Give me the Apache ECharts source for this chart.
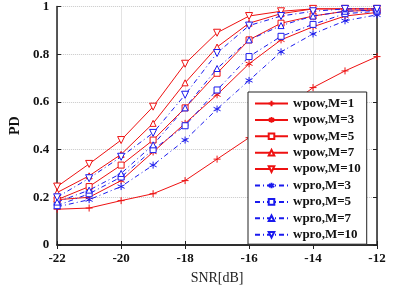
<!DOCTYPE html>
<html><head><meta charset="utf-8">
<script src="https://cdn.jsdelivr.net/npm/echarts@6/dist/echarts.min.js"></script>
<style>html,body{margin:0;padding:0;background:#fff}#c{width:393px;height:290px}</style>
</head><body><div id="c"></div>
<script>
const snr = [-22,-21,-20,-19,-18,-17,-16,-15,-14,-13,-12];
const xTicks = [-22,-20,-18,-16,-14,-12];
const yTicks = [0,0.2,0.4,0.6,0.8,1];
const wpowM1  = [0.15,0.155,0.186,0.215,0.27,0.36,0.45,0.56,0.66,0.73,0.79];
const wpowM3  = [0.19,0.20,0.27,0.39,0.51,0.63,0.76,0.86,0.915,0.96,0.975];
const wpowM5  = [0.19,0.245,0.335,0.44,0.575,0.72,0.86,0.93,0.96,0.98,0.985];
const wpowM7  = [0.22,0.29,0.38,0.51,0.68,0.83,0.93,0.97,0.99,0.99,0.99];
const wpowM10 = [0.245,0.34,0.44,0.58,0.76,0.89,0.96,0.98,0.99,0.99,0.99];
const wproM3  = [0.16,0.19,0.245,0.335,0.44,0.57,0.69,0.81,0.885,0.94,0.965];
const wproM5  = [0.165,0.215,0.285,0.40,0.50,0.65,0.79,0.875,0.925,0.97,0.98];
const wproM7  = [0.18,0.23,0.30,0.42,0.575,0.74,0.86,0.92,0.96,0.98,0.985];
const wproM10 = [0.20,0.28,0.37,0.47,0.63,0.805,0.92,0.96,0.98,0.99,0.99];
const names = ['wpow,M=1','wpow,M=3','wpow,M=5','wpow,M=7','wpow,M=10','wpro,M=3','wpro,M=5','wpro,M=7','wpro,M=10'];

const PLUS = 'path://M5,0L5,10M0,5L10,5';
const STAR = 'path://M5,0L5,10M0.7,2.5L9.3,7.5M0.7,7.5L9.3,2.5';
const TRIDOWN = 'path://M0,0L10,0L5,9Z';
const RED = '#ee1111', BLUE = '#1a1aee';
const FONT = 'Liberation Serif';

function mk(name, data, color, symbol, size, dashed){
  return {
    name, type:'line', data: snr.map((x,i)=>[x,data[i]]),
    symbol, symbolSize: size, showSymbol:true,
    lineStyle:{color, width:1, type: dashed ? [5,3,1,3] : 'solid'},
    itemStyle:{color: '#fff', borderColor: color, borderWidth:1},
    emphasis:{disabled:true}, animation:false, z: dashed?3:2
  };
}
const series = [
  mk(names[0], wpowM1, RED, PLUS, 7, false),
  mk(names[1], wpowM3, RED, STAR, 7, false),
  mk(names[2], wpowM5, RED, 'rect', 6, false),
  mk(names[3], wpowM7, RED, 'triangle', 6, false),
  mk(names[4], wpowM10, RED, TRIDOWN, 7, false),
  mk(names[5], wproM3, BLUE, STAR, 7, true),
  mk(names[6], wproM5, BLUE, 'rect', 6, true),
  mk(names[7], wproM7, BLUE, 'triangle', 6, true),
  mk(names[8], wproM10, BLUE, TRIDOWN, 7, true)
];

const axisLbl = {fontFamily:FONT, fontWeight:'bold', fontSize:13, color:'#111'};
const chart = echarts.init(document.getElementById('c'), null, {renderer:'canvas'});
chart.setOption({
  animation:false,
  backgroundColor:'#fff',
  grid:{left:45, right:16, top:5, bottom:43, containLabel:false},
  xAxis:[{
    type:'value', min:-22, max:-12, interval:2,
    axisLine:{show:true, lineStyle:{color:'#222', width:1.5}},
    axisTick:{show:true, inside:true, length:4, lineStyle:{color:'#222'}},
    axisLabel:Object.assign({margin:7, formatter:v=>xTicks.includes(v)?String(v):''}, axisLbl),
    splitLine:{show:true, lineStyle:{type:'dotted', color:'#c8c8c8'}},
    name:'SNR[dB]', nameLocation:'middle', nameGap:26,
    nameTextStyle:{fontFamily:FONT, fontSize:14, color:'#222'}
  },{
    type:'value', min:-22, max:-12, interval:2, position:'top',
    axisLine:{show:true, lineStyle:{color:'#222', width:1.5}},
    axisTick:{show:true, inside:true, length:4}, axisLabel:{show:false}, splitLine:{show:false}
  }],
  yAxis:[{
    type:'value', min:0, max:1, interval:0.2,
    axisLine:{show:true, lineStyle:{color:'#222', width:1.5}},
    axisTick:{show:true, inside:true, length:4, lineStyle:{color:'#222'}},
    axisLabel:Object.assign({margin:8, formatter:v=>{const t=yTicks.find(y=>Math.abs(y-v)<1e-9); return t===undefined?'':String(t);}}, axisLbl),
    splitLine:{show:true, lineStyle:{type:'dotted', color:'#c8c8c8'}},
    name:'PD', nameLocation:'middle', nameGap:30,
    nameTextStyle:{fontFamily:FONT, fontWeight:'bold', fontSize:14, color:'#111'}
  },{
    type:'value', min:0, max:1, interval:0.2, position:'right',
    axisLine:{show:true, lineStyle:{color:'#222', width:1.5}},
    axisTick:{show:true, inside:true, length:4}, axisLabel:{show:false}, splitLine:{show:false}
  }],
  legend:{
    orient:'vertical', left:248, top:92, width:129,
    padding:[5,6,3,6], itemGap:3.4, itemWidth:33, itemHeight:7,
    borderColor:'#222', borderWidth:1, backgroundColor:'#fff', borderRadius:0,
    textStyle:{fontFamily:FONT, fontWeight:'bold', fontSize:13, color:'#111', padding:[0,0,0,0]},
    data:names
  },
  series
});
</script></body></html>
